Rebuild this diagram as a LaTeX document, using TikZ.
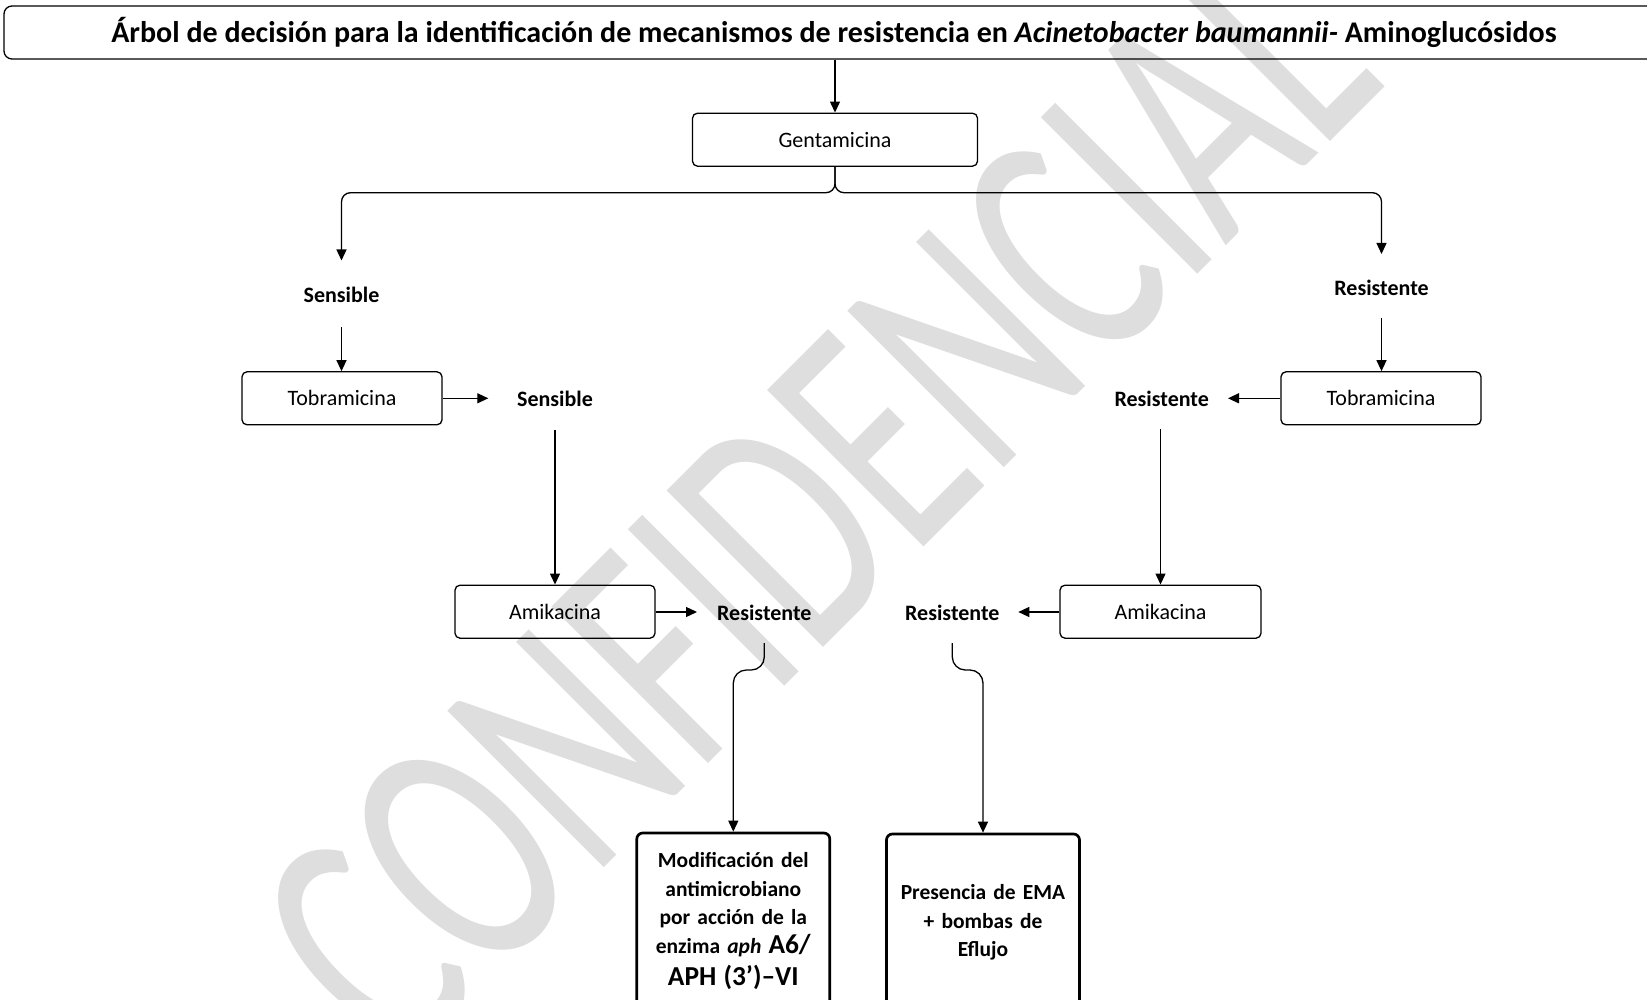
\documentclass[tikz,border=0pt]{standalone}
\usepackage{fontspec}
\setmainfont{Carlito}
\usetikzlibrary{arrows.meta}
\definecolor{wmgray}{HTML}{DEDEDE}
\tikzset{
  box/.style={draw, line width=1.3pt, rounded corners=5pt, minimum height=53pt, inner sep=0pt, font=\fontsize{22}{26}\selectfont},
  lbl/.style={inner sep=0pt, font=\bfseries\fontsize{22}{26}\selectfont},
  endbox/.style={draw, line width=2.7pt, rounded corners=6pt, minimum width=193pt, minimum height=177pt, text width=187pt, align=center, inner sep=0pt, font=\bfseries\fontsize{21.5}{28.5}\selectfont},
  arr/.style={line width=1.3pt, -{Triangle[length=11pt,width=10pt]}},
  wm/.style={text=wmgray, inner sep=0pt, font=\fontsize{230}{230}\selectfont, rotate=45, yscale=1.5}
}
\begin{document}
\begin{tikzpicture}[x=1pt,y=-1pt]
\useasboundingbox (0,0) rectangle (1647,1000);
\begin{scope}
\clip (0,0) rectangle (1647,1000);
% watermark
\node[wm] (wmark) at (815,500) {CONFIDENCIAL};

% title
\node[draw, line width=1.3pt, rounded corners=8pt, minimum width=1660pt, minimum height=53pt, inner sep=0pt,
      font=\bfseries\fontsize{30}{34}\selectfont] (title) at (834,32.5)
  {\raisebox{-1.5pt}{Árbol de decisión para la identificación de mecanismos de resistencia en \textit{Acinetobacter baumannii-} Aminoglucósidos}};

% boxes
\node[box, minimum width=285pt] (gent) at (835,139.7) {Gentamicina};
\node[box, minimum width=200pt] (tobL) at (342,398.3) {Tobramicina};
\node[box, minimum width=200pt] (tobR) at (1381,398.3) {Tobramicina};
\node[box, minimum width=200pt] (amiL) at (555,611.7) {Amikacina};
\node[box, minimum width=201pt] (amiR) at (1160.5,611.7) {Amikacina};

% labels
\node[lbl] (s1) at (341.5,295) {Sensible};
\node[lbl] (r1) at (1381.5,288.3) {Resistente};
\node[lbl] (s2) at (555,398.5) {Sensible};
\node[lbl] (r2) at (1161.7,399) {Resistente};
\node[lbl] (r3) at (764.3,612.5) {Resistente};
\node[lbl] (r4) at (952.3,612.5) {Resistente};

% result boxes
\node[endbox] (modL) at (733.3,921.5) {Modificación del\\antimicrobiano\\por acción de la\\enzima \textit{aph} {\fontsize{27.4}{33}\selectfont A6/}\\[4pt]{\fontsize{27.4}{33}\selectfont APH (3’)–VI}};
\node[endbox] (modR) at (983,922.5) {Presencia de EMA\\+ bombas de\\Eflujo};

% free ends
\coordinate (s1in) at (341.5,260.5);
\coordinate (r1in) at (1381.5,254);
\coordinate (s1out) at (341.5,327);
\coordinate (r1out) at (1381.5,318);
\coordinate (s2in) at (488.3,398.3);
\coordinate (r2in) at (1228,398.3);
\coordinate (s2out) at (555,430);
\coordinate (r2out) at (1160.5,429);
\coordinate (r3in) at (697,612);
\coordinate (r4in) at (1018.3,612);
\coordinate (r3out) at (764.3,643);
\coordinate (r4out) at (952.3,643);

% connectors
\draw[arr] (title.south -| gent.north) -- (gent.north);
\draw[arr, rounded corners=9pt] (gent.south) |- (341.5,192.7) -- (s1in);
\draw[arr, rounded corners=9pt] (gent.south) |- (1381.5,192.7) -- (r1in);
\draw[arr] (s1out) -- (s1out |- tobL.north);
\draw[arr] (r1out) -- (r1out |- tobR.north);
\draw[arr] (tobL.east) -- (s2in);
\draw[arr] (tobR.west) -- (r2in);
\draw[arr] (s2out) -- (amiL.north);
\draw[arr] (r2out) -- (amiR.north);
\draw[arr] (amiL.east |- r3in) -- (r3in);
\draw[arr] (amiR.west |- r4in) -- (r4in);
\draw[arr, rounded corners=13pt] (r3out) -- (764.3,670) -| (modL.north);
\draw[arr, rounded corners=13pt] (r4out) -- (952.3,670) -| (modR.north);
\end{scope}
\end{tikzpicture}
\end{document}
